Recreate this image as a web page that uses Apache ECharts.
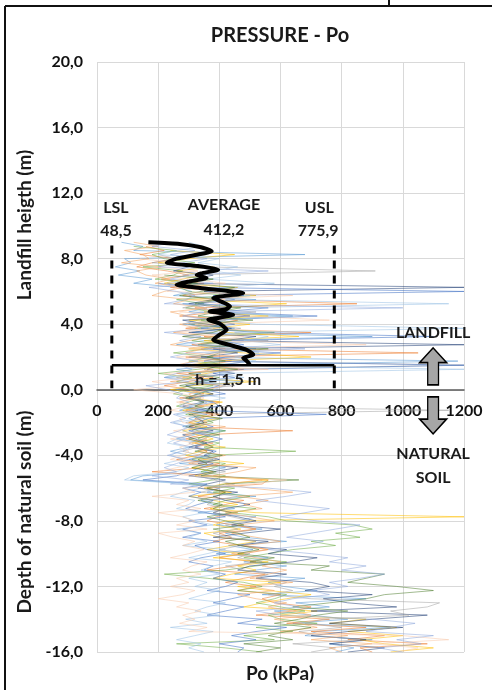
<!DOCTYPE html>
<html>
<head>
<meta charset="utf-8">
<script src="https://cdn.jsdelivr.net/npm/echarts/dist/echarts.min.js"></script>
<style>
  html, body { margin: 0; padding: 0; background: #fff; }
  #chart { width: 492px; height: 690px; }
</style>
</head>
<body>
<div id="chart"></div>
<script>
// depth grid (m) shared by all the CPT traces, 9 m down to -16 m
const depth = [9, 8.75, 8.5, 8.25, 8, 7.75, 7.5, 7.25, 7, 6.75, 6.5, 6.25, 6, 5.75, 5.5, 5.25, 5, 4.75, 4.5, 4.25,
  4, 3.75, 3.5, 3.25, 3, 2.75, 2.5, 2.25, 2, 1.75, 1.5, 1.25, 1, 0.75, 0.5, 0.25, 0, -0.25, -0.5, -0.75,
  -1, -1.25, -1.5, -1.75, -2, -2.25, -2.5, -2.75, -3, -3.25, -3.5, -3.75, -4, -4.25, -4.5, -4.75,
  -5, -5.25, -5.5, -5.75, -6, -6.25, -6.5, -6.75, -7, -7.25, -7.5, -7.75, -8, -8.25, -8.5, -8.75,
  -9, -9.25, -9.5, -9.75, -10, -10.25, -10.5, -10.75, -11, -11.25, -11.5, -11.75, -12, -12.25, -12.5, -12.75,
  -13, -13.25, -13.5, -13.75, -14, -14.25, -14.5, -14.75, -15, -15.25, -15.5, -15.75, -16]

// Po (kPa) of each trace at the depths above (null = trace not started yet)
const traceA = [80, 150, 120, 680, 90, 110, 60, 140, 70, 180, 120, 260, 310, 250, 520, 280, 360, 300, 640, 330,
  280, 450, 310, 900, 350, 260, 520, 380, 300, 1180, 420, 260, 340, 220, 480, 300, 260, 330, 290, 380,
  310, 270, 360, 300, 330, 280, 420, 310, 260, 350, 300, 240, 300, 380, 270, 420, 350, 150, 110, 320,
  400, 360, 520, 340, 380, 450, 330, 520, 460, 390, 540, 420, 480, 620, 430, 510, 390, 560, 480, 620,
  520, 450, 680, 560, 610, 720, 540, 880, 650, 760, 580, 700, 820, 640, 960, 720, 680, 900, 760, 840, 780]
const traceB = [null, 160, 220, 140, 260, 180, 130, 230, 300, 210, 350, 240, 420, 280, 380, 850, 320, 400, 270, 460,
  380, 290, 700, 350, 420, 310, 380, 1050, 290, 440, 350, 480, 260, 380, 300, 220, 310, 350, 270, 400,
  330, 290, 380, 320, 360, 300, 640, 340, 290, 380, 320, 360, 330, 260, 400, 350, 180, 380, 560, 540,
  360, 420, 330, 480, 420, 350, 460, 390, 360, 450, 520, 400, 440, 380, 470, 560, 480, 400, 520, 450,
  360, 550, 480, 420, 520, 460, 600, 540, 580, 700, 640, 520, 760, 620, 880, 700, 940, 820, 1080, 860, 900]
const traceC = [null, null, 240, 450, 300, 200, 380, 260, 340, 280, 220, 460, 380, 520, 300, 620, 420, 350, 560, 300,
  500, 380, 420, 660, 350, 450, 300, 480, 700, 380, 310, 420, 360, 280, 520, 310, 240, 380, 300, 410,
  350, 280, 320, 400, 300, 360, 280, 330, 380, 310, 420, 340, 290, 350, 480, 310, 380, 320, 560, 410,
  350, 440, 300, 380, 460, 370, 520, 1200, 420, 380, 470, 350, 400, 520, 440, 360, 480, 380, 560, 460,
  520, 440, 380, 600, 460, 560, 700, 620, 540, 480, 720, 600, 880, 760, 980, 820, 1000, 860, 940, 1100, 960]
const traceD = [null, 120, 260, 180, 220, 320, 150, 280, 250, 190, 330, 270, 300, 420, 260, 350, 290, 380, 450, 340,
  420, 320, 580, 380, 310, 420, 360, 250, 380, 300, 450, 330, 200, 310, 260, 380, 290, 250, 340, 300,
  260, 330, 290, 350, 380, 320, 420, 360, 330, 400, 350, 650, 370, 310, 420, 380, 340, 420, 380, 300,
  450, 380, 500, 420, 380, 520, 440, 560, 620, 840, 900, 780, 860, 700, 780, 640, 560, 480, 620, 520,
  420, 220, 360, 480, 540, 460, 620, 580, 520, 600, 680, 560, 600, 720, 520, 640, 480, 580, 260, 420, 540]
const traceE = [null, null, null, null, null, null, 300, 250, 380, 320, 260, 1200, 350, 480, 380, 300, 420, 360, 500, 280,
  360, 440, 300, 520, 420, 1200, 380, 460, 340, 500, 400, 360, 450, 320, 380, 290, 330, 380, 300, 350,
  280, 360, 310, 330, 350, 300, 380, 280, 320, 360, 300, 380, 350, 400, 330, 460, 380, 300, 420, 360,
  330, 460, 380, 420, 500, 420, 380, 460, 520, 440, 600, 480, 380, 560, 460, 620, 560, 720, 640, 500,
  460, 620, 520, 700, 760, 680, 900, 740, 820, 980, 700, 1080, 900, 760, 1000, 820, 700, 880, 760, 940, 820]
const traceF = [null, null, null, 200, 260, 180, 350, 910, 280, 380, 230, 330, 460, 300, 390, 340, 280, 520, 380, 420,
  330, 470, 360, 280, 560, 340, 440, 380, 310, 420, 1200, 350, 390, 260, 330, 450, 300, 340, 280, 360,
  320, 1150, 300, 350, 290, 340, 310, 370, 350, 300, 330, 280, 340, 390, 310, 360, 420, 330, 380, 450,
  400, 340, 460, 380, 360, 420, 380, 440, 500, 420, 460, 380, 430, 520, 470, 400, 500, 460, 540, 420,
  480, 560, 520, 620, 580, 640, 560, 700, 1120, 1080, 960, 1020, 740, 680, 800, 660, 720, 860, 640, 780, 700]
const traceG = [null, null, null, null, null, null, null, null, null, null, 200, 320, 1200, 380, 450, 330, 560, 400, 720, 380,
  450, 340, 520, 1100, 400, 480, 340, 600, 420, 350, 1200, 480, 380, 450, 320, 400, 350, 420, 300, 380,
  400, 320, 750, 360, 330, 380, 300, 350, 410, 360, 320, 390, 360, 300, 380, 340, 300, 260, 150, 360,
  280, 340, 300, 380, 330, 290, 360, 420, 300, 360, 280, 340, 280, 400, 320, 360, 420, 340, 300, 380,
  350, 420, 380, 460, 420, 360, 500, 440, 380, 480, 420, 360, 540, 460, 620, 520, 440, 520, 400, 480, 460]
const traceH = [120, 200, 90, 150, 170, 80, 210, 130, 160, 240, 190, 280, 220, 180, 300, 250, 360, 240, 300, 420,
  270, 330, 250, 380, 300, 240, 350, 290, 480, 320, 260, 380, 300, 350, 240, 420, 360, 300, 320, 270,
  350, 300, 400, 330, 300, 420, 340, 290, 360, 320, 380, 330, 420, 350, 300, 520, 460, 380, 540, 420,
  500, 640, 460, 560, 480, 540, 420, 500, 580, 460, 520, 440, 520, 600, 480, 560, 440, 520, 600, 540,
  620, 560, 500, 640, 500, 580, 460, 520, 620, 560, 640, 700, 580, 660, 720, 600, 820, 700, 900, 760, 800]
const traceI = [300, 350, 260, 200, 400, 330, 460, 380, 470, 360, 580, 420, 380, 500, 420, 1150, 440, 380, 620, 400,
  520, 1200, 450, 560, 480, 600, 420, 530, 450, 520, 380, 1200, 400, 480, 350, 420, 380, 320, 420, 350,
  300, 380, 260, 340, 250, 300, 280, 320, 260, 230, 300, 270, 240, 280, 220, 300, 260, 120, 90, 300,
  340, 280, 240, 320, 300, 260, 350, 280, 320, 380, 260, 340, 300, 360, 280, 420, 360, 300, 440, 380,
  340, 400, 300, 360, 320, 400, 350, 300, 420, 360, 320, 400, 290, 360, 240, 380, 320, 260, 340, 300, 350]
const traceJ = [null, null, null, null, null, null, null, null, 220, 380, 300, 450, 340, 270, 400, 320, 470, 390, 330, 510,
  300, 420, 380, 280, 440, 330, 560, 400, 360, 420, 310, 460, 300, 400, 340, 270, 380, 330, 290, 350,
  320, 380, 300, 410, 350, 290, 330, 400, 300, 350, 380, 320, 410, 330, 360, 310, 390, 340, 660, 420,
  360, 420, 390, 330, 410, 380, 440, 360, 420, 480, 380, 460, 500, 420, 470, 530, 460, 580, 500, 760,
  700, 940, 880, 820, 980, 1100, 940, 880, 760, 640, 820, 720, 660, 580, 700, 620, 560, 640, 480, 600, 520]
const traceK = [null, null, null, null, 140, 260, 200, 330, 180, 300, 420, 260, 230, 640, 300, 400, 350, 270, 480, 760,
  320, 400, 260, 480, 380, 880, 300, 420, 260, 350, 300, 560, 220, 300, 180, 260, 120, 280, 350, 260,
  300, 240, 330, 270, 280, 350, 250, 310, 240, 320, 270, 300, 280, 240, 330, 260, 200, 300, 620, 500,
  280, 320, 180, 300, 260, 340, 200, 280, 320, 260, 360, 200, 250, 320, 280, 350, 300, 240, 360, 310,
  280, 340, 260, 300, 240, 320, 280, 200, 300, 260, 340, 280, 320, 270, 360, 300, 1000, 1150, 900, 1050, 980]
const traceL = [250, 180, 320, 240, 360, 280, 200, 560, 300, 240, 380, 170, 260, 320, 290, 220, 1000, 340, 280, 380,
  300, 360, 220, 340, 270, 330, 680, 300, 240, 330, 270, 310, 260, 220, 300, 160, 230, 280, 260, 300,
  270, 320, 250, 290, 240, 300, 270, 230, 290, 250, 310, 280, 230, 300, 260, 220, 260, 180, 300, 240,
  560, 700, 620, 520, 640, 760, 680, 600, 720, 860, 780, 700, 620, 740, 680, 560, 700, 820, 760, 880,
  800, 940, 860, 760, 820, 700, 760, 640, 580, 660, 520, 600, 900, 1040, 960, 880, 1100, 980, 1060, 920, 1000]

const traces = [traceA, traceB, traceC, traceD, traceE, traceF, traceG, traceH, traceI, traceJ, traceK, traceL]
// excel-like palette for the traces
const traceColors = ['#5B9BD5', '#ED7D31', '#FFC000', '#70AD47', '#264478', '#A5A5A5', '#4472C4', '#F4A460',
  '#9DC3E6', '#548235', '#F8CBAD', '#8FAADC']

// average profile in the landfill (black thick line)
const avgDepth = [9.0, 8.9, 8.7, 8.45, 8.25, 8.0, 7.75, 7.55, 7.33, 7.1, 7.0, 6.82, 6.6, 6.41, 6.21, 6.05, 5.9, 5.6,
  5.35, 5.09, 4.9, 4.78, 4.58, 4.4, 4.27, 4.05, 3.87, 3.66, 3.35, 3.05, 2.75, 2.44, 2.14, 1.94, 1.75, 1.53]
const avgValue = [168, 270, 340, 375, 330, 260, 228, 330, 396, 340, 326, 358, 300, 260, 337, 420, 478, 380,
  410, 435, 420, 369, 445, 400, 364, 400, 413, 424, 400, 380, 430, 489, 511, 478, 490, 500]

// limits
const lsl = 48.5
const usl = 775.9
const average = 412.2
const hLimit = 1.5
const limitTop = 8.8
const limitBottom = 0.1

const fnt = 'Lato'
const fmt = v => v.toFixed(1).replace('.', ',')

const chart = echarts.init(document.getElementById('chart'))

const series = traces.map((t, k) => ({
  type: 'line',
  data: t.map((v, i) => [v, depth[i]]).filter(p => p[0] !== null),
  symbol: 'none',
  silent: true,
  lineStyle: { width: 1, color: traceColors[k], opacity: 0.55 },
  z: 2
}))

// average line
series.push({
  type: 'line',
  data: avgValue.map((v, i) => [v, avgDepth[i]]),
  symbol: 'none',
  smooth: 0.2,
  lineStyle: { width: 4, color: '#000' },
  z: 5
})
// LSL / USL dashed lines
;[lsl, usl].forEach(x => {
  series.push({
    type: 'line',
    data: [[x, limitTop], [x, limitBottom]],
    symbol: 'none',
    lineStyle: { width: 3, color: '#000', type: [8, 7] },
    z: 6
  })
})
// h = 1,5 m line
series.push({
  type: 'line',
  data: [[lsl, hLimit], [usl, hLimit]],
  symbol: 'none',
  lineStyle: { width: 2.5, color: '#000' },
  z: 6
})

// up / down arrows for landfill and natural soil
const upArrow = 'path://M10,0 L20,12 L14,12 L14,30 L6,30 L6,12 L0,12 Z'
const downArrow = 'path://M6,0 L14,0 L14,18 L20,18 L10,30 L0,18 L6,18 Z'
series.push({
  type: 'scatter',
  data: [
    { value: [1099, 1.43], symbol: upArrow },
    { value: [1099, -1.56], symbol: downArrow }
  ],
  symbolSize: [27, 37],
  silent: true,
  itemStyle: { color: '#a6a6a6', borderColor: '#000', borderWidth: 1.5, opacity: 1 },
  z: 7
})

// annotation texts (placed in data coords)
const notes = [
  ['LSL', 62, 11.1], [fmt(lsl), 62, 9.67],
  ['AVERAGE', 415, 11.3], [fmt(average), 415, 9.77],
  ['USL', 727, 11.1], [fmt(usl), 723, 9.67],
  ['h = 1,5 m', 429, 0.6],
  ['LANDFILL', 1099, 3.48], ['NATURAL', 1099, -3.9], ['SOIL', 1099, -5.37]
]

const baseGraphic = [
  // frame of the picture (only top and left edges are visible)
  { type: 'line', shape: { x1: 5, y1: 6, x2: 492, y2: 6 }, style: { stroke: '#111', lineWidth: 2 } },
  { type: 'line', shape: { x1: 5, y1: 6, x2: 5, y2: 690 }, style: { stroke: '#111', lineWidth: 2 } },
  { type: 'line', shape: { x1: 389, y1: 0, x2: 389, y2: 6 }, style: { stroke: '#111', lineWidth: 2 } },
  {
    type: 'text', x: 280, y: 36,
    style: { text: 'PRESSURE - Po', font: 'bold 20px Lato', fill: '#1a1a1a', textAlign: 'center', textVerticalAlign: 'middle' }
  },
  {
    type: 'text', x: 25, y: 225, rotation: Math.PI / 2,
    style: { text: 'Landfill heigth (m)', font: 'bold 19px Lato', fill: '#1a1a1a', textAlign: 'center', textVerticalAlign: 'middle' }
  },
  {
    type: 'text', x: 25, y: 512, rotation: Math.PI / 2,
    style: { text: 'Depth of natural soil (m)', font: 'bold 19px Lato', fill: '#1a1a1a', textAlign: 'center', textVerticalAlign: 'middle' }
  },
  {
    type: 'text', x: 280, y: 674,
    style: { text: 'Po (kPa)', font: 'bold 19px Lato', fill: '#1a1a1a', textAlign: 'center', textVerticalAlign: 'middle' }
  }
]

chart.setOption({
  animation: false,
  grid: { left: 97, right: 28, top: 62, bottom: 38 },
  xAxis: {
    type: 'value',
    min: 0,
    max: 1200,
    interval: 200,
    axisLine: { onZero: false, lineStyle: { color: '#595959', width: 1.5 } },
    axisTick: { show: false },
    axisLabel: { margin: 13, fontFamily: fnt, fontWeight: 'bold', fontSize: 16, color: '#111', formatter: v => String(v) },
    splitLine: { show: true, lineStyle: { color: '#d9d9d9', width: 1 } }
  },
  yAxis: {
    type: 'value',
    min: -16,
    max: 20,
    interval: 4,
    axisLine: { show: false, onZero: false },
    axisTick: { show: false },
    axisLabel: { margin: 14, fontFamily: fnt, fontWeight: 'bold', fontSize: 16, color: '#111', formatter: fmt },
    splitLine: { show: true, lineStyle: { color: '#d9d9d9', width: 1 } }
  },
  graphic: baseGraphic,
  series: series
})

// move the x axis (line + labels) up to depth 0 using the y scale
const zeroPx = chart.convertToPixel({ yAxisIndex: 0 }, 0)
const bottomPx = chart.convertToPixel({ yAxisIndex: 0 }, -16)

// place the annotation texts through the grid's scales
const noteGraphic = notes.map(n => {
  const p = chart.convertToPixel({ gridIndex: 0 }, [n[1], n[2]])
  return {
    type: 'text', x: p[0], y: p[1], z: 100,
    style: { text: n[0], font: 'bold 16px Lato', fill: '#1a1a1a', textAlign: 'center', textVerticalAlign: 'middle' }
  }
})
chart.setOption({
  xAxis: { offset: zeroPx - bottomPx },
  graphic: baseGraphic.concat(noteGraphic)
})
</script>
</body>
</html>
